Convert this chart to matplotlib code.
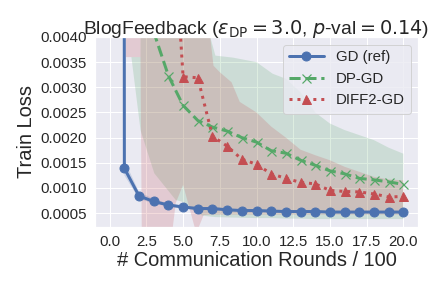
import matplotlib
matplotlib.use("Agg")
import matplotlib.pyplot as plt
import seaborn as sns
import numpy as np

sns.set_theme(style="darkgrid")
plt.rcParams['font.family'] = ['Liberation Sans', 'DejaVu Sans']

# ---- data ----
rounds = list(range(0, 21))
gd = [0.5, 0.00139, 0.00084, 0.00073, 0.00066, 0.00062, 0.00059, 0.00059, 0.000565,
      0.00055, 0.00055, 0.00054, 0.00053, 0.00053, 0.00053, 0.00052, 0.00052, 0.00052,
      0.00052, 0.00052, 0.00052]
dp_gd = [0.3, 0.1, 0.02, 0.0041, 0.00323, 0.00264, 0.00234, 0.00221, 0.00213, 0.00200,
         0.00191, 0.00174, 0.00169, 0.00155, 0.00145, 0.00134, 0.00128, 0.00119,
         0.00116, 0.00112, 0.00107]
diff2_gd = [0.5, 0.2, 0.08, 0.03, 0.0078, 0.00321, 0.00319, 0.00203, 0.00183, 0.00157,
            0.00147, 0.00128, 0.00119, 0.00111, 0.00108, 0.00095, 0.00093, 0.00092,
            0.00088, 0.00082, 0.00083]

gd_lo = [0.3, 0.00125, 0.00078, 0.00069, 0.00063, 0.00059, 0.00056, 0.00056, 0.00054,
         0.00053, 0.00053, 0.00052, 0.00051, 0.00051, 0.00051, 0.00050, 0.00050, 0.00050,
         0.00050, 0.00050, 0.00050]
gd_hi = [0.7, 0.00155, 0.00092, 0.00078, 0.00069, 0.00065, 0.00062, 0.00062, 0.00059,
         0.00057, 0.00057, 0.00056, 0.00055, 0.00055, 0.00055, 0.00054, 0.00054, 0.00054,
         0.00054, 0.00054, 0.00054]

dp_band_x = [1.48, 2.1, 2.15, 3.04, 4.5, 5.0, 5.6, 6.3, 6.85, 7.2, 8.4, 10.0, 11.1, 12.0,
             13.0, 14.0, 15.0, 16.0, 17.0, 18.0, 19.0, 20.0]
dp_lo = [0.0036, 0.00215, 0.0021, 0.00129, 0.00076, 0.00072, 0.00057, 0.00045, 0.00043,
         0.00042, 0.00041, 0.00040, 0.00040, 0.00039, 0.00039, 0.00038, 0.00038, 0.00038,
         0.00038, 0.00038, 0.00038, 0.00038]
dp_hi = [0.0036, 0.0036, 0.008, 0.007, 0.006, 0.0055, 0.005, 0.0045, 0.0040, 0.00363,
         0.00359, 0.0035, 0.00327, 0.00317, 0.0029, 0.0025, 0.00228, 0.00215, 0.00205,
         0.00195, 0.0018, 0.00168]

diff2_band_x = [1.1, 2.1, 2.2, 4.0, 4.5, 5.0, 5.9, 6.4, 6.85, 7.07, 7.5, 8.3, 8.86, 10.0,
                11.0, 12.0, 13.0, 14.0, 15.0, 16.0, 17.0, 18.0, 19.0, 20.0]
diff2_lo = [0.0036, 0.0036, -0.0005, -0.0005, 0.0007, 0.00106, 0.0001, 0.00046, 0.00047,
            0.00047, 0.00047, 0.00047, 0.00047, 0.00047, 0.00047, 0.00047, 0.00047,
            0.00047, 0.00047, 0.00047, 0.00047, 0.00047, 0.00047, 0.00047]
diff2_hi = [0.01, 0.01, 0.01, 0.01, 0.01, 0.009, 0.008, 0.006, 0.0040, 0.00343, 0.0033,
            0.0031, 0.00271, 0.0025, 0.00222, 0.0020, 0.00176, 0.00165, 0.00155, 0.00142,
            0.00132, 0.00122, 0.00117, 0.00115]

xticks = [0.0, 2.5, 5.0, 7.5, 10.0, 12.5, 15.0, 17.5, 20.0]
yticks = [0.0005, 0.0010, 0.0015, 0.0020, 0.0025, 0.0030, 0.0035, 0.0040]

blue, green, red = "#4c72b0", "#55a868", "#c44e52"

fig = plt.figure(figsize=(6, 4), dpi=72)
ax = fig.add_subplot(111)
fig.subplots_adjust(left=95/432, right=418/432, bottom=1-227/288, top=1-37/288)

ax.fill_between(rounds, gd_lo, gd_hi, color=blue, alpha=0.2, lw=0)
ax.fill_between(dp_band_x, dp_lo, dp_hi, color=green, alpha=0.2, lw=0)
ax.fill_between(diff2_band_x, diff2_lo, diff2_hi, color=red, alpha=0.2, lw=0)

ax.plot(rounds, gd, '-o', color=blue, lw=3, ms=9, label='GD (ref)')
ax.plot(rounds, dp_gd, '--x', color=green, lw=3, ms=9, mew=1.2, label='DP-GD')
ax.plot(rounds, diff2_gd, ':^', color=red, lw=3, ms=9, label='DIFF2-GD')

ax.set_xlim(-1, 21)
ax.set_ylim(0.000223, 0.0040)
ax.set_xticks(xticks)
ax.set_yticks(yticks)
ax.set_xticklabels([f"{t:.1f}" for t in xticks])
ax.set_yticklabels([f"{t:.4f}" for t in yticks])
ax.tick_params(labelsize=15, pad=2)

ax.set_xlabel("# Communication Rounds / 100", fontsize=20, labelpad=2)
ax.set_ylabel("Train Loss", fontsize=20, labelpad=4)
ax.set_title(r"BlogFeedback ($\varepsilon_{\rm DP}=3.0$, $p$-val$=0.14$)", fontsize=19.3, pad=3)
ax.legend(loc='upper right', fontsize=15, handlelength=2.3)

fig.savefig("out.png", dpi=72)
